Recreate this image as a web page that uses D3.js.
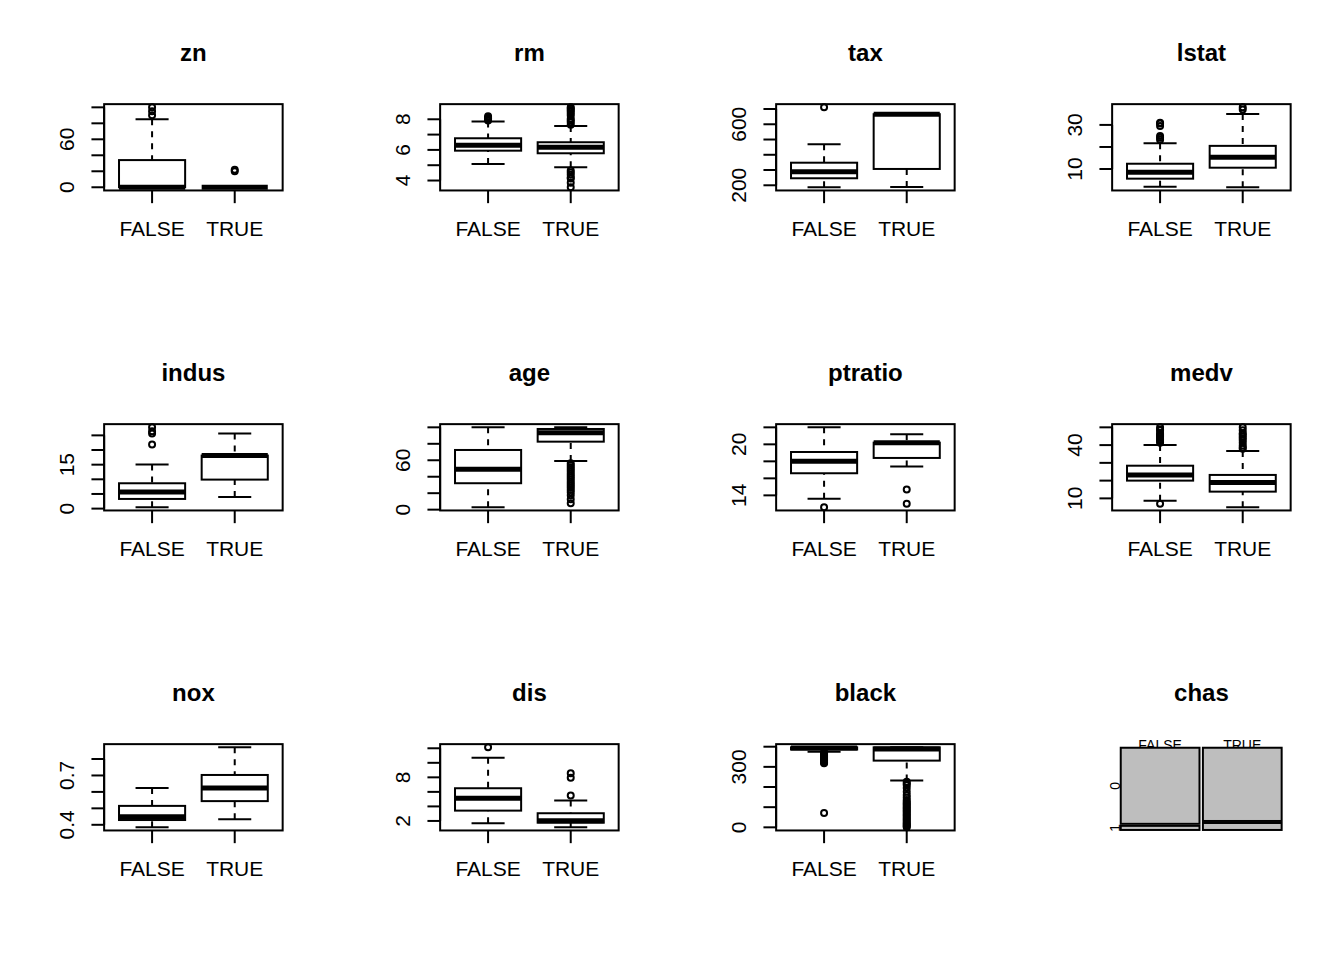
<!DOCTYPE html>
<html><head><meta charset="utf-8">
<script src="https://cdn.jsdelivr.net/npm/d3@7"></script>
<style>body{margin:0;background:#fff}svg{display:block}text{font-family:"Liberation Sans",Arial,Helvetica,sans-serif}</style>
</head><body>
<script>
// ---------------- data ----------------
const groups = ["FALSE", "TRUE"];
const variables = ["zn","rm","tax","lstat","indus","age","ptratio","medv","nox","dis","black"];

// five-number stats per group: [lower whisker, Q1, median, Q3, upper whisker]
const znStats = [[0,0,0,34,85],[0,0,0,0,0]];
const znOut = [[90,95,100],[20,22]];
const znTicks = [0,20,40,60,80,100];
const znLabels = [0,60];

const rmStats = [[5.08,5.95,6.30,6.76,7.85],[4.87,5.78,6.17,6.50,7.56]];
const rmOut = [[7.92,8.0,8.04,8.07,8.1,8.2],
  [7.65,7.8,7.92,8.03,8.25,8.38,8.5,8.6,8.7,8.78,4.65,4.52,4.37,4.2,4.14,3.86,3.56]];
const rmTicks = [4,5,6,7,8];
const rmLabels = [4,6,8];

const taxStats = [[187,246,289,348,469],[188,307,666,666,666]];
const taxOut = [[711],[]];
const taxTicks = [200,300,400,500,600,700];
const taxLabels = [200,600];

const lstatStats = [[1.98,5.63,8.5,12.4,21.7],[1.73,10.6,15.3,20.5,35.0]];
const lstatOut = [[23.3,24.2,25.0,29.5,30.6,31.0],[36.98,37.97]];
const lstatTicks = [10,20,30];
const lstatLabels = [10,30];

const indusStats = [[0.46,3.3,5.7,8.65,15.04],[3.97,9.9,18.1,18.1,25.65]];
const indusOut = [[21.89,25.65,26.4,27.74],[]];
const indusTicks = [0,5,10,15,20,25];
const indusLabels = [0,15];

const ageStats = [[2.9,32.1,49.1,72.5,100],[59.2,82.6,93.5,98.0,100]];
const ageOut = [[],[56.5,54,51.5,49,46.5,44,41.5,39,36.5,34,31.5,29,26.5,24,21,17.5,12.6,7.8]];
const ageTicks = [0,20,40,60,80,100];
const ageLabels = [0,60];

const ptratioStats = [[13.6,16.6,18.0,19.1,22.0],[17.4,18.4,20.2,20.2,21.2]];
const ptratioOut = [[12.6],[14.7,13.0]];
const ptratioTicks = [14,16,18,20,22];
const ptratioLabels = [14,20];

const medvStats = [[8.7,20.0,23.2,28.4,40.0],[5.0,13.8,18.9,23.2,36.7]];
const medvOut = [[7.0,41.3,42.3,43.1,44,44.8,45.4,46,46.7,48.3,48.8,50],
  [37.9,38.7,39.8,41.3,42.8,43.8,44.8,46.0,46.7,48.3,50]];
const medvTicks = [10,20,30,40,50];
const medvLabels = [10,40];

const noxStats = [[0.385,0.429,0.449,0.515,0.624],[0.434,0.544,0.624,0.703,0.871]];
const noxOut = [[],[]];
const noxTicks = [0.4,0.5,0.6,0.7,0.8];
const noxLabels = [0.4,0.7];

const disStats = [[1.68,3.42,5.12,6.5,10.7],[1.13,1.76,2.03,3.06,4.8]];
const disOut = [[12.13],[5.49,7.96,8.56]];
const disTicks = [2,4,6,8,10,12];
const disLabels = [2,8];

const blackStats = [[375,386,393,396.9,396.9],[232,331,389,396.9,396.9]];
const blackOut = [[372,369,366,362,358,354,350,346,342,338,334,330,326,322,318,70.8],
  [226,218,210,195,177,160,148,135,127,120,113,106,99,92,85,78,71,64,57,50,43,36,29,22,16,10,5,0.32]];
const blackTicks = [0,100,200,300,400];
const blackLabels = [0,300];

// mosaic for chas
const chasGroups = ["FALSE","TRUE"];
const chasLevels = ["0","1"];
const chasCounts = [[240,13],[231,22]];

const statsBy = {zn:znStats,rm:rmStats,tax:taxStats,lstat:lstatStats,indus:indusStats,age:ageStats,ptratio:ptratioStats,medv:medvStats,nox:noxStats,dis:disStats,black:blackStats};
const outBy = {zn:znOut,rm:rmOut,tax:taxOut,lstat:lstatOut,indus:indusOut,age:ageOut,ptratio:ptratioOut,medv:medvOut,nox:noxOut,dis:disOut,black:blackOut};
const ticksBy = {zn:znTicks,rm:rmTicks,tax:taxTicks,lstat:lstatTicks,indus:indusTicks,age:ageTicks,ptratio:ptratioTicks,medv:medvTicks,nox:noxTicks,dis:disTicks,black:blackTicks};
const labelsBy = {zn:znLabels,rm:rmLabels,tax:taxLabels,lstat:lstatLabels,indus:indusLabels,age:ageLabels,ptratio:ptratioLabels,medv:medvLabels,nox:noxLabels,dis:disLabels,black:blackLabels};

// ---------------- layout ----------------
const W = 1344, H = 960, cellW = 336, cellH = 320, LN = 25.4;
const svg = d3.select("body").append("svg").attr("width", W).attr("height", H);
svg.append("rect").attr("width", W).attr("height", H).attr("fill", "#fff");

function panelBox(i) {
  const cx = (i % 4) * cellW, cy = Math.floor(i / 4) * cellH;
  return {cx, cy, left: cx + 4.1 * LN, right: cx + cellW - 2.1 * LN, top: cy + 4.1 * LN, bottom: cy + cellH - 5.1 * LN};
}

function title(g, b, name) {
  g.append("text").attr("x", (b.left + b.right) / 2).attr("y", b.cy + 61)
    .attr("text-anchor", "middle").attr("font-size", 24).attr("font-weight", "bold").text(name);
}

variables.forEach((v, i) => {
  const b = panelBox(i);
  const g = svg.append("g");
  const st = statsBy[v], out = outBy[v];
  const all = st.flat().concat(out.flat());
  const mn = d3.min(all), mx = d3.max(all), r = mx - mn;
  const y = d3.scaleLinear().domain([mn - 0.04 * r, mx + 0.04 * r]).range([b.bottom, b.top]);
  const x = d3.scaleLinear().domain([0.42, 2.58]).range([b.left, b.right]);
  const hw = x(1.4) - x(1), cw = hw / 2;

  st.forEach((s, gi) => {
    const xc = x(gi + 1);
    const [lo, q1, med, q3, hi] = s;
    // whiskers (drawn from staple toward box)
    g.append("line").attr("x1", xc).attr("x2", xc).attr("y1", y(hi)).attr("y2", y(q3))
      .attr("stroke", "#000").attr("stroke-width", 2).attr("stroke-dasharray", "6,6");
    g.append("line").attr("x1", xc).attr("x2", xc).attr("y1", y(lo)).attr("y2", y(q1))
      .attr("stroke", "#000").attr("stroke-width", 2).attr("stroke-dasharray", "6,6");
    // staples
    [lo, hi].forEach(w => g.append("line").attr("x1", xc - cw).attr("x2", xc + cw).attr("y1", y(w)).attr("y2", y(w))
      .attr("stroke", "#000").attr("stroke-width", 2));
    // box
    g.append("rect").attr("x", xc - hw).attr("width", 2 * hw).attr("y", y(q3)).attr("height", Math.max(0, y(q1) - y(q3)))
      .attr("fill", "none").attr("stroke", "#000").attr("stroke-width", 2);
    // median
    g.append("line").attr("x1", xc - hw).attr("x2", xc + hw).attr("y1", y(med)).attr("y2", y(med))
      .attr("stroke", "#000").attr("stroke-width", 5);
    // outliers
    out[gi].forEach(o => g.append("circle").attr("cx", xc).attr("cy", y(o)).attr("r", 3)
      .attr("fill", "none").attr("stroke", "#000").attr("stroke-width", 2));
  });

  // frame
  g.append("rect").attr("x", b.left).attr("y", b.top).attr("width", b.right - b.left).attr("height", b.bottom - b.top)
    .attr("fill", "none").attr("stroke", "#000").attr("stroke-width", 2);

  // y axis
  const tk = ticksBy[v];
  g.append("line").attr("x1", b.left).attr("x2", b.left).attr("y1", y(tk[0])).attr("y2", y(tk[tk.length - 1]))
    .attr("stroke", "#000").attr("stroke-width", 2);
  tk.forEach(t => g.append("line").attr("x1", b.left).attr("x2", b.left - 12.7).attr("y1", y(t)).attr("y2", y(t))
    .attr("stroke", "#000").attr("stroke-width", 2));
  labelsBy[v].forEach(t => g.append("text")
    .attr("transform", `translate(${b.left - 1.2 * LN},${y(t)}) rotate(-90)`)
    .attr("text-anchor", "middle").attr("font-size", 21).text(String(t)));

  // x axis
  groups.forEach((gr, gi) => {
    const xc = x(gi + 1);
    g.append("line").attr("x1", xc).attr("x2", xc).attr("y1", b.bottom).attr("y2", b.bottom + 12.7)
      .attr("stroke", "#000").attr("stroke-width", 2);
    g.append("text").attr("x", xc).attr("y", b.bottom + 45.8).attr("text-anchor", "middle")
      .attr("font-size", 21).text(gr);
  });

  title(g, b, v);
});

// ---------------- chas mosaic ----------------
(function () {
  const b = panelBox(11);
  const g = svg.append("g");
  title(g, b, "chas");
  const x0 = b.left + 8.6, x1 = b.right - 9, y0 = b.top + 3.6, y1 = b.bottom - 0.5;
  const gapX = 3.4, gapY = 2;
  const totals = chasCounts.map(c => d3.sum(c));
  const grand = d3.sum(totals);
  const colW = (x1 - x0 - gapX * (chasGroups.length - 1));
  const xs = d3.scaleLinear().domain([0, grand]).range([0, colW]);
  let cum = 0;
  const cols = chasGroups.map((gr, gi) => {
    const left = x0 + xs(cum) + gi * gapX;
    cum += totals[gi];
    const right = x0 + xs(cum) + gi * gapX;
    return {gr, left, right};
  });
  // column labels (drawn first, partly covered)
  cols.forEach(c => g.append("text").attr("x", (c.left + c.right) / 2).attr("y", b.top + 6)
    .attr("text-anchor", "middle").attr("font-size", 14).text(c.gr));
  const rowsPos = [];
  cols.forEach((c, gi) => {
    const hAvail = y1 - y0 - gapY * (chasLevels.length - 1);
    const ys = d3.scaleLinear().domain([0, totals[gi]]).range([0, hAvail]);
    let cc = 0;
    chasLevels.forEach((lv, li) => {
      const top = y0 + ys(cc) + li * gapY;
      cc += chasCounts[gi][li];
      const bot = y0 + ys(cc) + li * gapY;
      if (gi === 0) rowsPos.push({lv, mid: (top + bot) / 2});
      g.append("rect").attr("x", c.left).attr("y", top).attr("width", c.right - c.left).attr("height", bot - top)
        .attr("fill", "#bebebe").attr("stroke", "#000").attr("stroke-width", 2);
    });
  });
  rowsPos.forEach(rp => g.append("text")
    .attr("transform", `translate(${x0 - 0.5},${rp.mid}) rotate(-90)`)
    .attr("text-anchor", "middle").attr("font-size", 14).text(rp.lv));
})();
</script>
</body></html>
